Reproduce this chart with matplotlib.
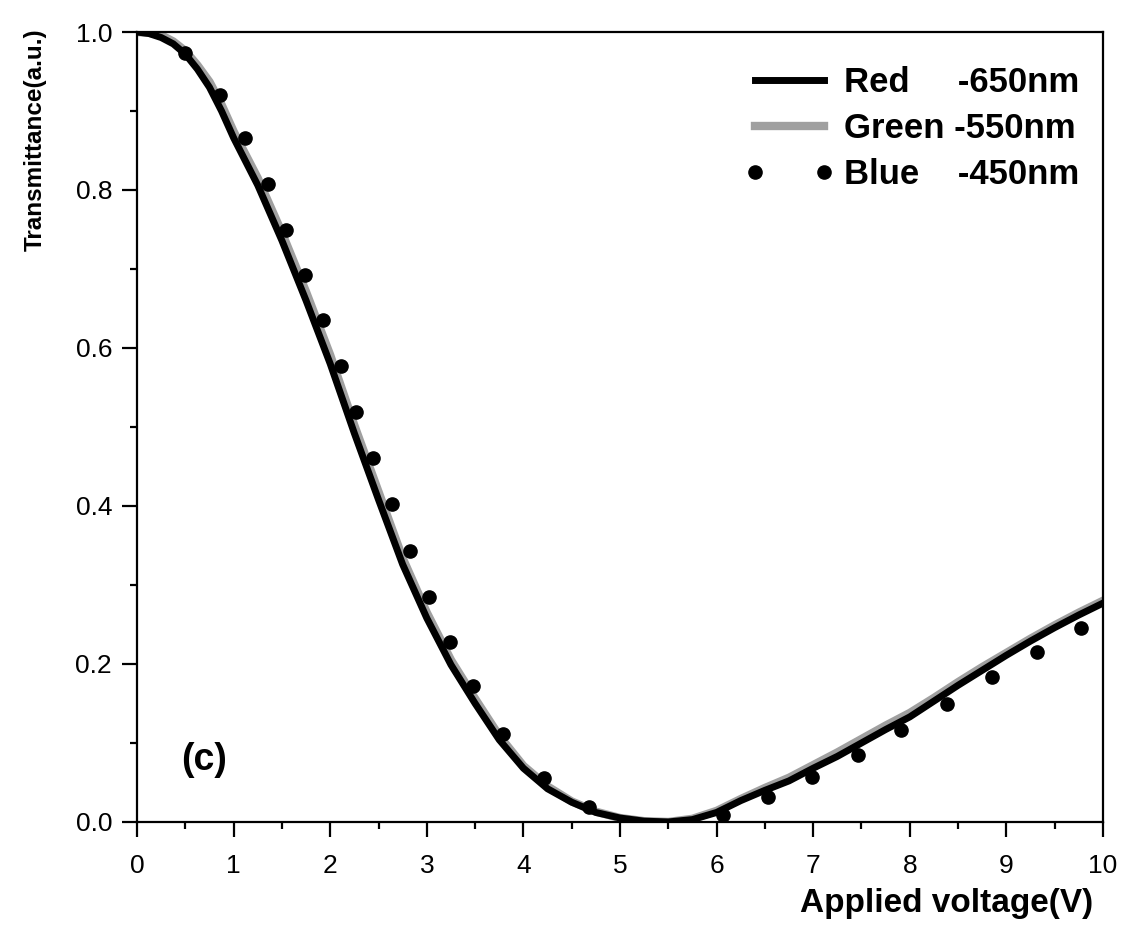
import matplotlib
matplotlib.use("Agg")
import matplotlib.pyplot as plt

plt.rcParams['font.family'] = ['Liberation Sans', 'DejaVu Sans']

# curves (V, transmittance)
volt = [0.0, 0.125, 0.25, 0.375, 0.5, 0.625, 0.75, 0.875, 1.0, 1.25, 1.5,
        1.75, 2.0, 2.25, 2.5, 2.75, 3.0, 3.25, 3.5, 3.75, 4.0, 4.25, 4.5,
        4.75, 5.0, 5.25, 5.5, 5.75, 6.0, 6.25, 6.5, 6.75, 7.0, 7.25, 7.5,
        7.75, 8.0, 8.25, 8.5, 8.75, 9.0, 9.25, 9.5, 9.75, 10.0]
red = [1.000, 0.998, 0.993, 0.985, 0.972, 0.953, 0.930, 0.900, 0.866, 0.806,
       0.736, 0.660, 0.580, 0.492, 0.408, 0.326, 0.258, 0.199, 0.150, 0.104,
       0.068, 0.042, 0.025, 0.012, 0.005, 0.001, 0.000, 0.003, 0.012, 0.027,
       0.040, 0.052, 0.068, 0.083, 0.100, 0.117, 0.133, 0.153, 0.173, 0.192,
       0.211, 0.229, 0.246, 0.262, 0.277]
green = [1.000, 0.999, 0.996, 0.988, 0.976, 0.958, 0.937, 0.908, 0.874, 0.815,
         0.746, 0.671, 0.591, 0.502, 0.418, 0.334, 0.265, 0.205, 0.156, 0.109,
         0.071, 0.045, 0.026, 0.013, 0.005, 0.001, 0.000, 0.004, 0.014, 0.029,
         0.043, 0.056, 0.072, 0.088, 0.105, 0.122, 0.138, 0.157, 0.177, 0.196,
         0.214, 0.232, 0.249, 0.265, 0.280]

blue_v = [0.50, 0.86, 1.12, 1.36, 1.54, 1.74, 1.93, 2.11, 2.27, 2.44, 2.64,
          2.83, 3.02, 3.24, 3.48, 3.79, 4.21, 4.68, 6.07, 6.53, 6.99, 7.46,
          7.91, 8.39, 8.85, 9.32, 9.77]
blue_t = [0.973, 0.920, 0.866, 0.808, 0.749, 0.692, 0.635, 0.577, 0.519,
          0.461, 0.403, 0.343, 0.285, 0.228, 0.172, 0.111, 0.056, 0.019,
          0.009, 0.032, 0.057, 0.085, 0.116, 0.149, 0.184, 0.215, 0.246]

fig = plt.figure(figsize=(11.24, 9.25), dpi=100)
ax = fig.add_axes([0.1219, 0.1114, 0.8594, 0.854])

ax.plot(volt, green, color='#a0a0a0', lw=6, zorder=2,
        label='Green -550nm')
ax.plot(volt, red, color='black', lw=5, zorder=3,
        label='Red     -650nm')
ax.plot(blue_v, blue_t, 'o', color='black', ms=9.5, zorder=4,
        label='Blue    -450nm')

ax.set_xlim(0, 10)
ax.set_ylim(0, 1.0)
ax.set_xticks(range(0, 11))
ax.set_xticks([i + 0.5 for i in range(10)], minor=True)
ax.set_yticks([0.0, 0.2, 0.4, 0.6, 0.8, 1.0])
ax.set_yticklabels(['0.0', '0.2', '0.4', '0.6', '0.8', '1.0'])
ax.set_yticks([0.1, 0.3, 0.5, 0.7, 0.9], minor=True)
ax.tick_params(which='both', direction='out', top=False, right=False,
               width=1.6, labelsize=19)
ax.tick_params(which='major', length=11)
ax.tick_params(which='minor', length=5)
ax.tick_params(axis='x', pad=12)
ax.tick_params(axis='y', pad=7)
for s in ax.spines.values():
    s.set_linewidth(1.6)

ax.set_xlabel('Applied voltage(V)', fontsize=24, fontweight='bold', loc='right')
ax.xaxis.set_label_coords(0.99, -0.083)
ax.set_ylabel('Transmittance(a.u.)', fontsize=17.5, fontweight='bold', loc='top')
ax.yaxis.set_label_coords(-0.093, 1.005)

ax.text(0.69, 0.078, '(c)', fontsize=27, fontweight='bold',
        ha='center', va='center')

h, l = ax.get_legend_handles_labels()
order = [1, 0, 2]
ax.legend([h[i] for i in order], [l[i] for i in order],
          loc='upper left', bbox_to_anchor=(0.629, 0.957), frameon=False,
          borderpad=0, borderaxespad=0, handlelength=2.6, handletextpad=0.25,
          labelspacing=0.38, numpoints=2, prop={'weight': 'bold', 'size': 25})

fig.savefig('out.png', dpi=100)
